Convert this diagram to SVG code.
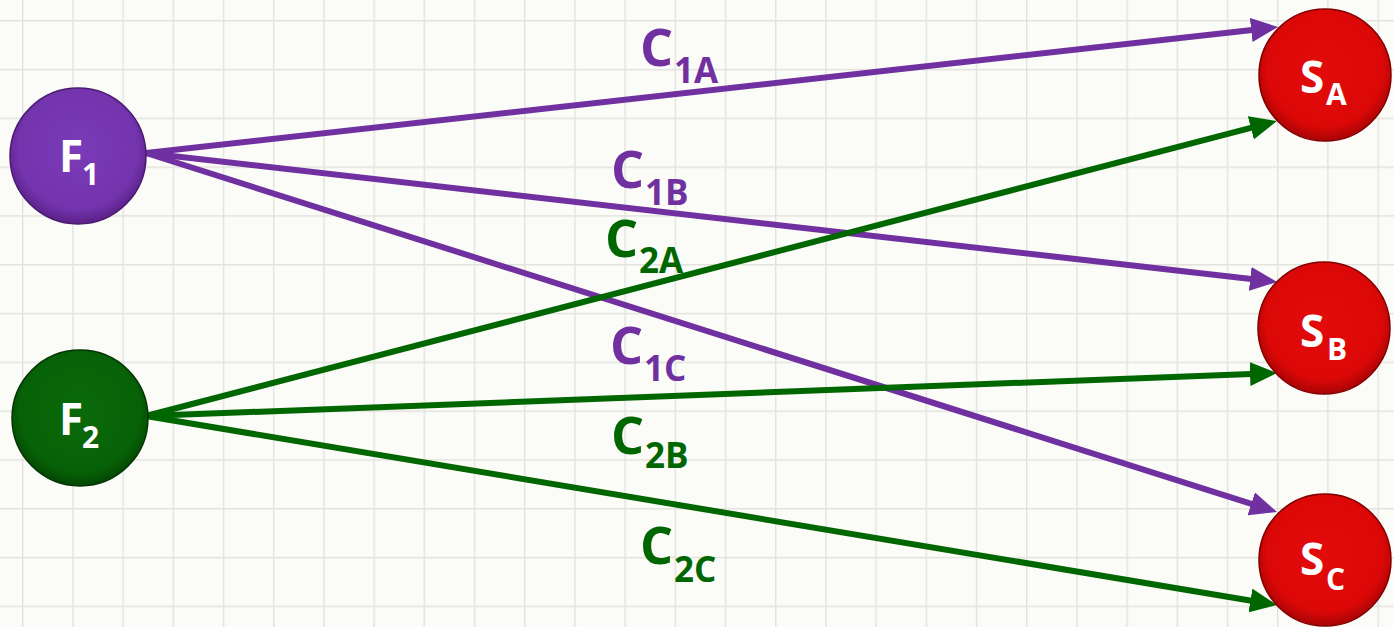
<svg xmlns="http://www.w3.org/2000/svg" width="1394" height="627" viewBox="0 0 1394 627">
<defs>
<pattern id="grid" patternUnits="userSpaceOnUse" x="22" y="20" width="50.2" height="48.8">
<rect width="50.2" height="48.8" fill="#fbfbf8"/>
<path d="M0.5,0 V48.8 M0,0.5 H50.2" stroke="#e2e2de" stroke-width="1.8" fill="none"/>
</pattern>
<radialGradient id="gP" cx="50%" cy="45%" r="55%">
<stop offset="0" stop-color="#7a3bb8"/><stop offset="0.8" stop-color="#7434ad"/><stop offset="1" stop-color="#5a2088"/>
</radialGradient>
<radialGradient id="gG" cx="50%" cy="45%" r="55%">
<stop offset="0" stop-color="#0a6a0a"/><stop offset="0.8" stop-color="#076207"/><stop offset="1" stop-color="#034703"/>
</radialGradient>
<radialGradient id="gR" cx="50%" cy="45%" r="55%">
<stop offset="0" stop-color="#e30b0b"/><stop offset="0.8" stop-color="#dc0808"/><stop offset="1" stop-color="#a80404"/>
</radialGradient>
<marker id="aP" markerUnits="userSpaceOnUse" markerWidth="27" markerHeight="24" refX="1" refY="12" orient="auto">
<path d="M0,0 L27,12 L0,24 z" fill="#7030a0"/>
</marker>
<marker id="aG" markerUnits="userSpaceOnUse" markerWidth="27" markerHeight="24" refX="1" refY="12" orient="auto">
<path d="M0,0 L27,12 L0,24 z" fill="#006600"/>
</marker>
<style>
.node{stroke-width:1.5}
.nl{font-family:"Open Sans","Liberation Sans",sans-serif;font-weight:bold;fill:#ffffff}
.lp{stroke:#7030a0;stroke-width:6;fill:none}
.lg{stroke:#006600;stroke-width:6;fill:none}
.lbl{font-family:"Open Sans","Liberation Sans",sans-serif;font-weight:bold}
.tp{fill:#7030a0}
.tg{fill:#006600}
</style>
</defs>
<rect width="1394" height="627" fill="url(#grid)"/>
<g id="connectors">
<line class="lp" x1="146" y1="153" x2="1252.2" y2="29.9" marker-end="url(#aP)"/>
<line class="lp" x1="146" y1="153" x2="1251.2" y2="279" marker-end="url(#aP)"/>
<line class="lp" x1="146" y1="153" x2="1252.2" y2="504.1" marker-end="url(#aP)"/>
<line class="lg" x1="146" y1="416" x2="1251.8" y2="127.6" marker-end="url(#aG)"/>
<line class="lg" x1="146" y1="416" x2="1251" y2="374" marker-end="url(#aG)"/>
<line class="lg" x1="146" y1="416" x2="1251.4" y2="600.7" marker-end="url(#aG)"/>
</g>
<g id="labels">
<text class="lbl tp"><tspan x="640" y="66" font-size="52">C</tspan><tspan x="674" y="83" font-size="35">1A</tspan></text>
<text class="lbl tp"><tspan x="611" y="188" font-size="52">C</tspan><tspan x="645" y="205" font-size="35">1B</tspan></text>
<text class="lbl tg"><tspan x="605" y="257" font-size="52">C</tspan><tspan x="639" y="273" font-size="35">2A</tspan></text>
<text class="lbl tp"><tspan x="610" y="364" font-size="52">C</tspan><tspan x="644" y="381" font-size="35">1C</tspan></text>
<text class="lbl tg"><tspan x="611" y="454" font-size="52">C</tspan><tspan x="645" y="468" font-size="35">2B</tspan></text>
<text class="lbl tg"><tspan x="640" y="564" font-size="52">C</tspan><tspan x="674" y="582" font-size="35">2C</tspan></text>
</g>
<g id="F1">
<circle class="node" cx="78" cy="156" r="68" fill="url(#gP)" stroke="#4a1a70"/>
<text class="nl"><tspan x="59" y="172" font-size="44">F</tspan><tspan x="82" y="185" font-size="30">1</tspan></text>
</g>
<g id="F2">
<circle class="node" cx="80" cy="418" r="68" fill="url(#gG)" stroke="#023502"/>
<text class="nl"><tspan x="59" y="435" font-size="44">F</tspan><tspan x="82" y="448" font-size="30">2</tspan></text>
</g>
<g id="SA">
<circle class="node" cx="1325" cy="75" r="66" fill="url(#gR)" stroke="#800000"/>
<text class="nl"><tspan x="1300" y="93" font-size="44">S</tspan><tspan x="1326" y="105" font-size="30">A</tspan></text>
</g>
<g id="SB">
<circle class="node" cx="1324" cy="328" r="66" fill="url(#gR)" stroke="#800000"/>
<text class="nl"><tspan x="1300" y="347" font-size="44">S</tspan><tspan x="1327" y="360" font-size="30">B</tspan></text>
</g>
<g id="SC">
<circle class="node" cx="1325" cy="560" r="66" fill="url(#gR)" stroke="#800000"/>
<text class="nl"><tspan x="1300" y="575" font-size="44">S</tspan><tspan x="1326" y="590" font-size="30">C</tspan></text>
</g>
</svg>
